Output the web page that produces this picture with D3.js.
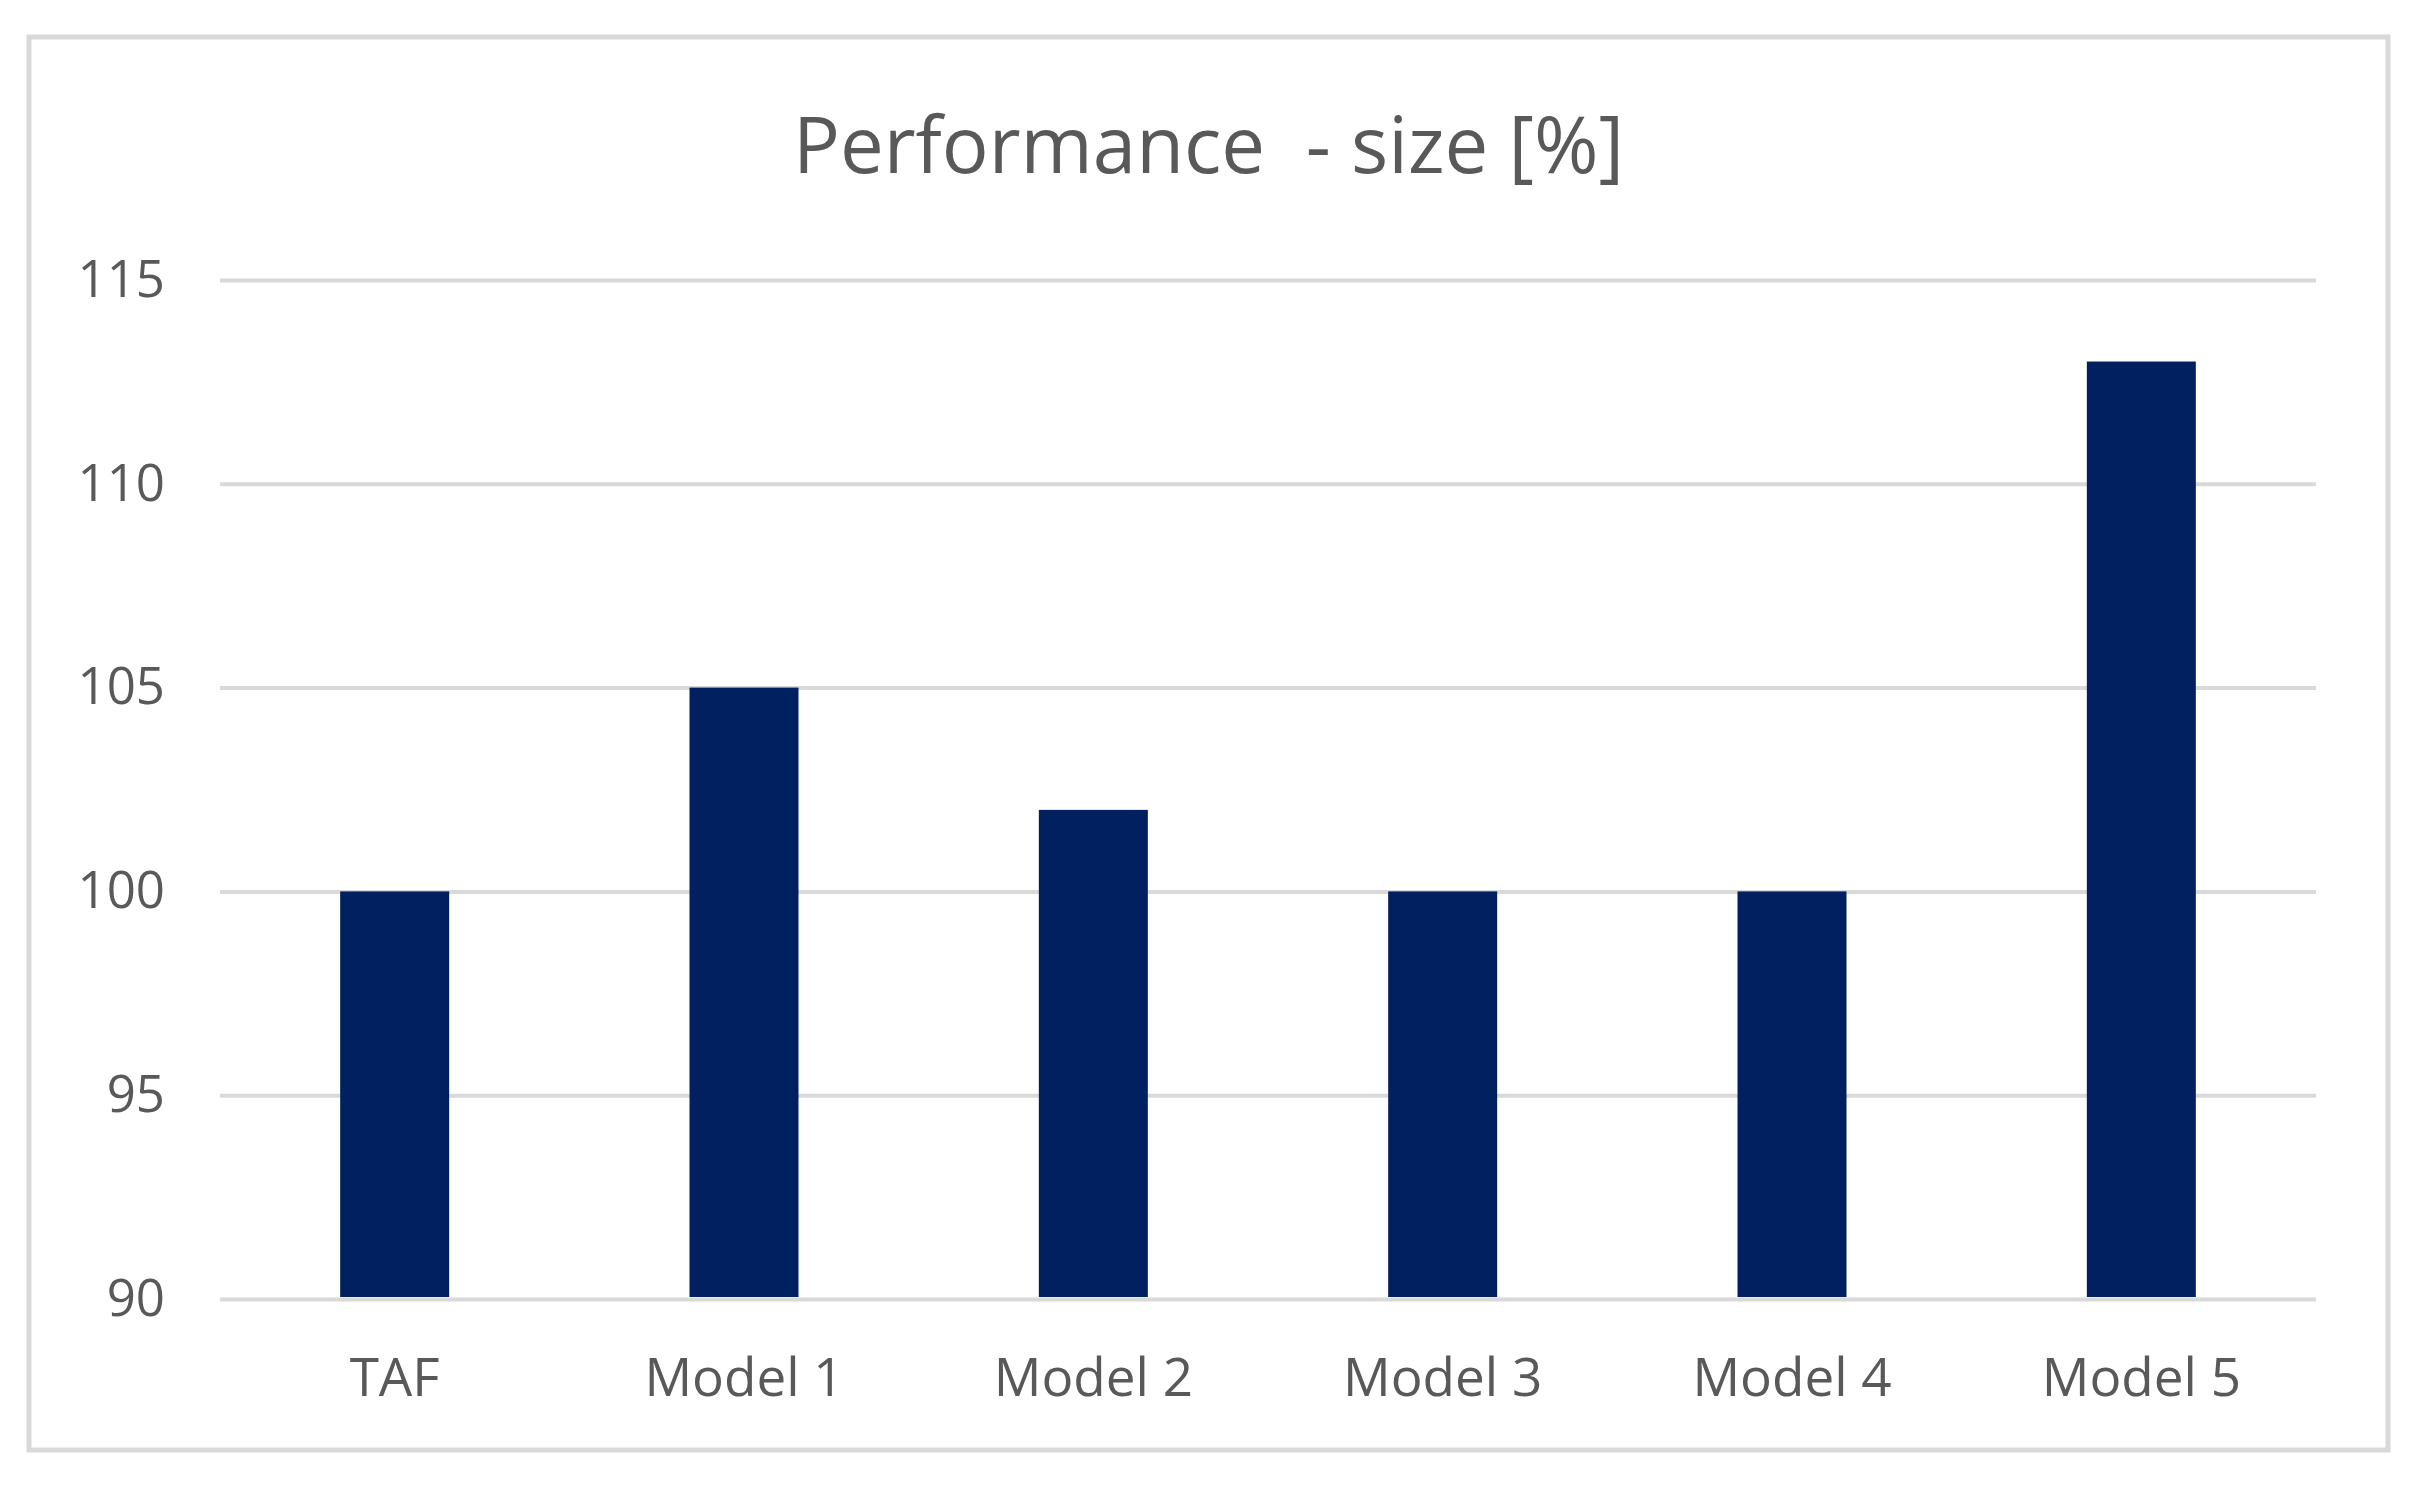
<!DOCTYPE html>
<html>
<head>
<meta charset="utf-8">
<script src="https://cdn.jsdelivr.net/npm/d3@7"></script>
<style>
  html, body { margin: 0; padding: 0; background: #ffffff; }
  svg { display: block; }
</style>
</head>
<body>
<script>
const categories = ["TAF", "Model 1", "Model 2", "Model 3", "Model 4", "Model 5"];
const values = [100, 105, 102, 100, 100, 113];
const yTicks = [90, 95, 100, 105, 110, 115];
const titleText = "Performance  - size [%]";

const W = 2413, H = 1486;
const frame = { x0: 29, y0: 37, x1: 2388, y1: 1450 };
const plot = { left: 220, right: 2316, top: 280, bottom: 1299 };

const svg = d3.select("body").append("svg")
  .attr("width", W).attr("height", H);

svg.append("rect")
  .attr("x", frame.x0).attr("y", frame.y0)
  .attr("width", frame.x1 - frame.x0).attr("height", frame.y1 - frame.y0)
  .attr("fill", "#ffffff").attr("stroke", "#d9d9d9").attr("stroke-width", 5);

const x = d3.scaleBand()
  .domain(categories)
  .range([plot.left, plot.right])
  .paddingInner(0.688)
  .paddingOuter(0.344);

const y = d3.scaleLinear()
  .domain([90, 115])
  .range([plot.bottom, plot.top]);

// gridlines + y labels via axis
const yAxis = d3.axisLeft(y)
  .tickValues(yTicks)
  .tickSize(-(plot.right - plot.left))
  .tickPadding(55)
  .tickFormat(d3.format("d"));

const gy = svg.append("g")
  .attr("transform", `translate(${plot.left},0)`)
  .call(yAxis);
gy.select(".domain").remove();
gy.selectAll(".tick line").attr("stroke", "#d9d9d9").attr("stroke-width", 4);
gy.selectAll(".tick text")
  .attr("fill", "#595959")
  .style("font-family", "'Open Sans', sans-serif")
  .style("font-size", "51px");

// bars
svg.append("g").selectAll("rect")
  .data(values)
  .join("rect")
  .attr("x", (d, i) => x(categories[i]))
  .attr("width", x.bandwidth())
  .attr("y", d => y(d))
  .attr("height", d => y(90) - y(d) - 2)
  .attr("fill", "#002060");

// x labels via axis
const xAxis = d3.axisBottom(x).tickSize(0).tickPadding(59);
const gx = svg.append("g")
  .attr("transform", `translate(0,${plot.bottom})`)
  .call(xAxis);
gx.select(".domain").remove();
gx.selectAll(".tick text")
  .attr("fill", "#595959")
  .style("font-family", "'Open Sans', sans-serif")
  .style("font-size", "53px");

// title
svg.append("text")
  .attr("x", (frame.x0 + frame.x1) / 2)
  .attr("y", 173)
  .attr("text-anchor", "middle")
  .attr("fill", "#595959")
  .style("font-family", "'Open Sans', sans-serif")
  .style("font-size", "78px")
  .style("white-space", "pre")
  .attr("xml:space", "preserve")
  .text(titleText);
</script>
</body>
</html>
